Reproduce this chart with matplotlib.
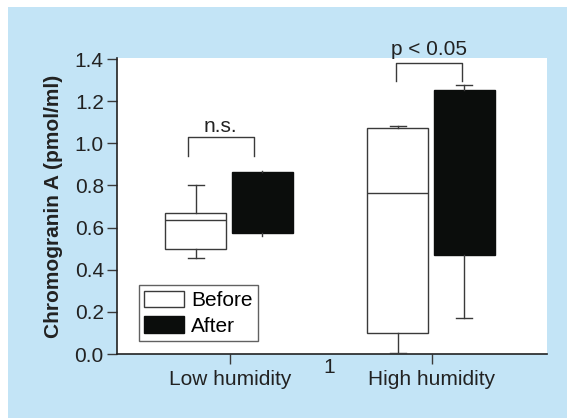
import matplotlib.pyplot as plt
from matplotlib.patches import Rectangle, Patch

# ---------- Data ----------
groups = ["Low humidity", "High humidity"]
conditions = ["Before", "After"]

# whislo, q1, med, q3, whishi per condition and group
before_stats = [
    [0.457, 0.499, 0.635, 0.671, 0.800],
    [0.003, 0.098, 0.766, 1.075, 1.080],
]
after_stats = [
    [0.562, 0.576, 0.720, 0.863, 0.869],
    [0.170, 0.472, 0.860, 1.254, 1.275],
]

sig_labels = ["n.s.", "p < 0.05"]
y_ticks = [0.0, 0.2, 0.4, 0.6, 0.8, 1.0, 1.2, 1.4]

# ---------- Style ----------
plt.rcParams["font.family"] = ["Liberation Sans", "DejaVu Sans"]
line_col = "#3a3a3a"
text_col = "#222222"
blue = "#c3e4f6"
fs = 15

fig = plt.figure(figsize=(5.67, 4.18), dpi=100)
fig.patch.set_facecolor("white")
fig.patches.append(Rectangle((8 / 567, 0), 1, 1 - 7 / 418, transform=fig.transFigure,
                             facecolor=blue, edgecolor="none", zorder=-10))

ax = fig.add_axes([117 / 567, 1 - 354 / 418, 430 / 567, 296 / 418])
ax.set_zorder(1)
ax.set_facecolor("white")


def to_stats(row):
    lo, q1, med, q3, hi = row
    return dict(whislo=lo, q1=q1, med=med, q3=q3, whishi=hi, fliers=[])


centers = [1, 2]
off_before = -0.17
off_after = 0.16
box_w = 0.30

line_props = dict(color=line_col, linewidth=1.0)

ax.bxp([to_stats(r) for r in before_stats],
       positions=[c + off_before for c in centers], widths=box_w,
       capwidths=[0.08, 0.08], patch_artist=True, showfliers=False,
       boxprops=dict(facecolor="white", edgecolor=line_col, linewidth=1.0),
       medianprops=line_props, whiskerprops=line_props, capprops=line_props,
       zorder=3)
ax.bxp([to_stats(r) for r in after_stats],
       positions=[c + off_after for c in centers], widths=box_w,
       capwidths=[0.0, 0.08], patch_artist=True, showfliers=False,
       boxprops=dict(facecolor="#0b0d0c", edgecolor="#0b0d0c", linewidth=1.0),
       medianprops=dict(color="#0b0d0c", linewidth=1.0),
       whiskerprops=line_props, capprops=line_props, zorder=3)

# significance brackets: x0, x1, leg bottom, top, text baseline
brackets = [
    (0.79, 1.12, 0.942, 1.030, 1.055),
    (1.82, 2.15, 1.297, 1.381, 1.420),
]
for (x0, x1, yb, yt, ty), lab in zip(brackets, sig_labels):
    ax.plot([x0, x0, x1, x1], [yb, yt, yt, yb], color=line_col, lw=1.0,
            clip_on=False, zorder=4)
    ax.text((x0 + x1) / 2, ty, lab, ha="center", va="baseline",
            fontsize=fs, color=text_col, clip_on=False)

# ---------- Axes ----------
ax.set_xlim(0.441, 2.569)
ax.set_ylim(0, 1.405)
ax.set_xticks(centers)
ax.set_xticklabels(groups)
ax.set_yticks(y_ticks)
ax.set_yticklabels([f"{v:.1f}" for v in y_ticks])
ax.tick_params(axis="both", direction="out", length=7.5, width=1.0,
               color=line_col, labelsize=fs, labelcolor=text_col, pad=2)
ax.tick_params(axis="x", pad=4)
for s in ["top", "right"]:
    ax.spines[s].set_visible(False)
for s in ["left", "bottom"]:
    ax.spines[s].set_color(text_col)
    ax.spines[s].set_linewidth(1.2)

ax.set_ylabel("Chromogranin A (pmol/ml)", fontsize=fs, fontweight="bold",
              color=text_col, labelpad=8)

ax.text(1.49, -0.02, "1", ha="center", va="top", fontsize=fs,
        color=text_col, transform=ax.transData)

handles = [Patch(facecolor="white", edgecolor=line_col, lw=1.0),
           Patch(facecolor="#0b0d0c", edgecolor="#0b0d0c")]
leg = ax.legend(handles, conditions, loc="lower left",
                bbox_to_anchor=(22 / 430, 13 / 296), fontsize=fs,
                frameon=True, fancybox=False, edgecolor=line_col,
                handlelength=1.9, handleheight=0.85, handletextpad=0.35,
                borderpad=0.25, labelspacing=0.3, borderaxespad=0)
leg.get_frame().set_linewidth(1.0)

fig.savefig("out.png", dpi=100, facecolor=fig.get_facecolor())
